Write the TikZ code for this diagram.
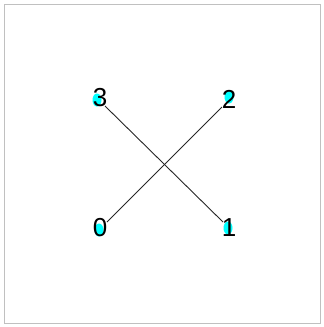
\documentclass[tikz,border=0pt]{standalone}
\usepackage{fontspec}
\usetikzlibrary{shapes.geometric}
\setmainfont{Liberation Sans}
\definecolor{aqua}{RGB}{0,255,255}
\definecolor{framegray}{RGB}{192,192,192}
\begin{document}
\begin{tikzpicture}[x=1pt,y=-1pt,
  lbl/.style={inner sep=0pt,font=\fontsize{26}{26}\selectfont,text=black},
  dot/.style={fill=aqua,draw=none,ellipse,minimum width=9pt,minimum height=13pt,inner sep=0pt},
  edge/.style={draw=black!85,line width=0.9pt}]
\useasboundingbox (0,0) rectangle (324,327);
\draw[draw=framegray,line width=1.5pt] (4.5,4.5) rectangle (320.5,323.5);
% cyan markers
\node[dot] (c3) at (97,100) {};
\node[dot] (c2) at (229,97) {};
\node[dot] (c0) at (99,230) {};
\node[dot] (c1) at (228,228) {};
% endpoints
\coordinate (e3) at (105,106);
\coordinate (e2) at (222,107);
\coordinate (e0) at (107,222);
\coordinate (e1) at (223,222);
\draw[edge] (e3) -- (e1);
\draw[edge] (e0) -- (e2);
% labels
\node[lbl] (n3) at (100,98) {3};
\node[lbl] (n2) at (229,99) {2};
\node[lbl] (n0) at (100,228) {0};
\node[lbl] (n1) at (229,228) {1};
\end{tikzpicture}
\end{document}
